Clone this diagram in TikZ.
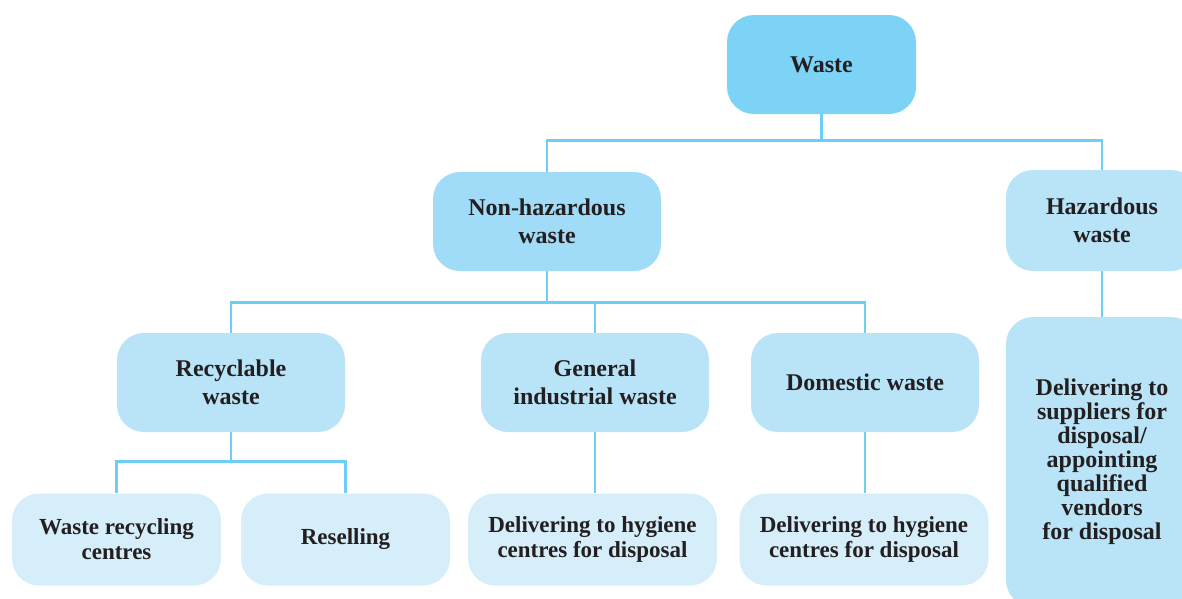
\documentclass[tikz,border=0pt]{standalone}
\usepackage{fontspec}
\setmainfont{Liberation Serif}
\usetikzlibrary{backgrounds}
\definecolor{cA}{HTML}{7DD3F5}
\definecolor{cB}{HTML}{A0DCF7}
\definecolor{cC}{HTML}{B9E4F8}
\definecolor{cD}{HTML}{D5EEFA}
\definecolor{ln}{HTML}{6DCFF6}
\definecolor{txt}{HTML}{231F20}
\begin{document}
\begin{tikzpicture}[x=1pt,y=-1pt,
  box/.style={rounded corners=27pt, inner sep=0pt, align=center, text=txt,
    font=\bfseries\fontsize{24}{28}\selectfont},
  big/.style={box, minimum width=228pt, minimum height=99pt},
  leaf/.style={box, fill=cD, minimum height=92pt, font=\bfseries\fontsize{23}{25}\selectfont},
  conn/.style={draw=ln, line width=2.8pt}]
\useasboundingbox (0,0) rectangle (1182,598);
\clip (0,0) rectangle (1182,598);
\node[box, fill=cA, minimum width=189pt, minimum height=99pt] (waste) at (821.5,64.5) {Waste};
\node[big, fill=cB] (nonhaz) at (547,221.5) {Non-hazardous\\waste};
\node[box, fill=cC, minimum width=192pt, minimum height=101pt] (haz) at (1102,220.5) {Hazardous\\waste};
\node[big, fill=cC] (recyc) at (231,382.5) {Recyclable\\waste};
\node[big, fill=cC] (gen) at (595,382.5) {General\\industrial waste};
\node[big, fill=cC] (dom) at (865,382.5) {Domestic waste};
\node[leaf, minimum width=209pt] (wrc) at (116.5,539.5) {Waste recycling\\centres};
\node[leaf, minimum width=209pt] (resell) at (345.5,539.5) {Reselling};
\node[leaf, minimum width=249pt] (hyg1) at (592.5,539.5) {Delivering to hygiene\\centres for disposal};
\node[leaf, minimum width=249pt] (hyg2) at (864,539.5) {Delivering to hygiene\\centres for disposal};
\node[box, fill=cC, minimum width=192pt, minimum height=290pt,
  font=\bfseries\fontsize{24}{24}\selectfont] (disp) at (1102,462)
  {Delivering to\\suppliers for\\disposal/\\appointing\\qualified\\vendors\\for disposal};
\begin{pgfonlayer}{background}
\draw[conn] (waste.south) -- ++(0,26) -| (nonhaz.north);
\draw[conn] (waste.south) -- ++(0,26) -| (haz.north);
\draw[conn] (haz.south) -- (disp.north);
\draw[conn] (nonhaz.south) -- ++(0,31) -| (recyc.north);
\draw[conn] (nonhaz.south) -- ++(0,31) -| (dom.north);
\draw[conn] (nonhaz.south) ++(0,31) -| (gen.north);
\draw[conn] (recyc.south) -- ++(0,29) -| (wrc.north);
\draw[conn] (recyc.south) -- ++(0,29) -| (resell.north);
\draw[conn] (gen.south) -- (gen.south |- hyg1.north);
\draw[conn] (dom.south) -- (dom.south |- hyg2.north);
\end{pgfonlayer}
\end{tikzpicture}
\end{document}
